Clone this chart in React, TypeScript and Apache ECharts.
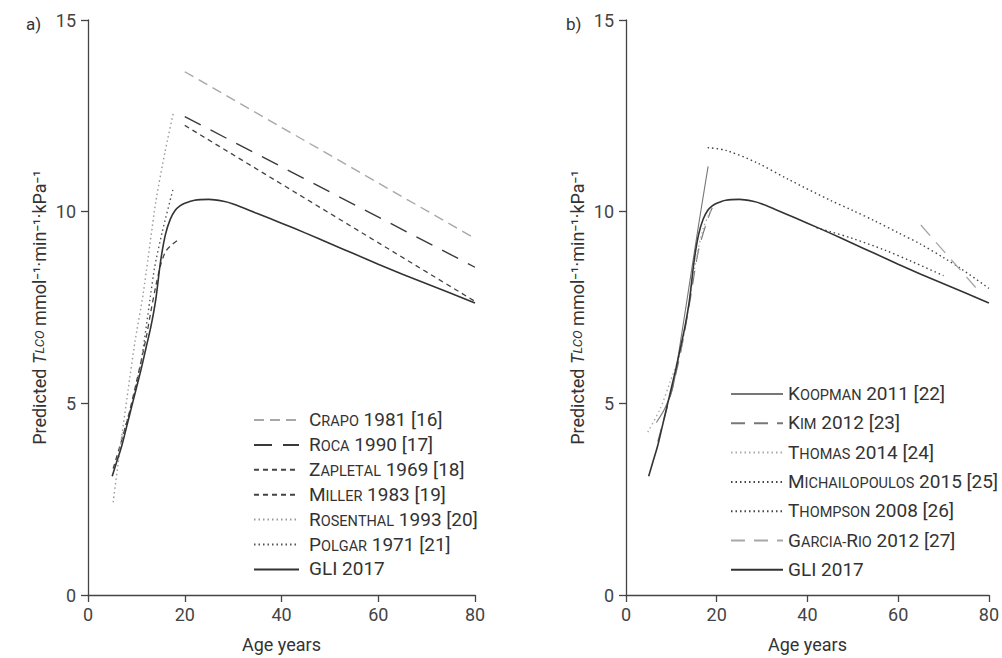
import React, { useEffect, useRef } from "react";
import * as echarts from "echarts";

const FONT = "Roboto";

// ---- shared GLI 2017 curve ----
const gliAges = [5, 6, 7, 8, 9, 10, 11, 12, 13, 14, 15, 16, 17, 18, 19, 20, 22, 25, 28, 30, 35, 40, 45, 50, 55, 60, 65, 70, 75, 80];
const gliValues = [3.1, 3.5, 3.9, 4.4, 4.9, 5.4, 5.9, 6.45, 7.0, 7.7, 8.7, 9.4, 9.8, 10.03, 10.15, 10.22, 10.3, 10.32, 10.27, 10.2, 9.95, 9.7, 9.44, 9.17, 8.9, 8.63, 8.37, 8.12, 7.87, 7.62];

// ---- panel a ----
const crapoAges = [20, 80];
const crapoValues = [13.65, 9.3];
const rocaAges = [20, 80];
const rocaValues = [12.48, 8.55];
const zapletalAges = [5.2, 8, 10, 12, 13, 14, 15, 16, 17, 18.5];
const zapletalValues = [3.3, 4.5, 5.55, 6.7, 7.4, 8.05, 8.6, 8.95, 9.1, 9.25];
const millerAges = [20, 80];
const millerValues = [12.25, 7.66];
const rosenthalAges = [5.2, 6.5, 8.3, 9.7, 11.4, 14, 15.9, 17.6];
const rosenthalValues = [2.42, 3.7, 5.36, 6.6, 7.85, 10.25, 11.55, 12.55];
const polgarAges = [7, 9, 11, 12.8, 13.8, 15.3, 17.6];
const polgarValues = [4.1, 4.95, 6.1, 7.7, 8.57, 9.45, 10.6];

// ---- panel b ----
const koopmanAges = [6.7, 8.5, 10.3, 12, 14.1, 16, 18.1];
const koopmanValues = [4.5, 4.85, 5.4, 6.6, 8.2, 9.65, 11.18];
const kimAges = [7, 10, 12, 14, 16, 18, 19];
const kimValues = [4.0, 5.3, 6.3, 7.6, 9.0, 9.8, 10.1];
const thomasAges = [4.8, 7.5, 9.7, 11.9, 13.5, 15, 17, 19];
const thomasValues = [4.25, 4.85, 5.55, 6.3, 7.3, 8.45, 9.55, 10.1];
const michailopoulosAges = [18, 22, 28.8, 36, 45, 50, 55, 60, 65, 70, 74, 80];
const michailopoulosValues = [11.67, 11.6, 11.28, 10.83, 10.3, 10.03, 9.75, 9.45, 9.15, 8.8, 8.5, 8.0];
const thompsonAges = [42, 45, 50, 57, 63, 70];
const thompsonValues = [9.58, 9.48, 9.3, 9.0, 8.7, 8.33];
const garciaRioAges = [65, 78];
const garciaRioValues = [9.65, 7.9];

const xTicks = { min: 0, max: 80, interval: 20 };
const yTicks = { min: 0, max: 15, interval: 5 };

const legendA = ["Crapo 1981 [16]", "Roca 1990 [17]", "Zapletal 1969 [18]", "Miller 1983 [19]", "Rosenthal 1993 [20]", "Polgar 1971 [21]", "GLI 2017"];
const legendB = ["Koopman 2011 [22]", "Kim 2012 [23]", "Thomas 2014 [24]", "Michailopoulos 2015 [25]", "Thompson 2008 [26]", "Garcia-Rio 2012 [27]", "GLI 2017"];

function pairs(a: number[], v: number[]) {
  return a.map((x, i) => [x, v[i]]);
}

function smallCaps(name: string) {
  if (name.startsWith("GLI")) return `{b|${name}}`;
  const idx = name.indexOf(" ");
  const word = name.slice(0, idx);
  const rest = name.slice(idx);
  let out = "";
  for (const ch of word) {
    if (ch >= "A" && ch <= "Z") out += `{b|${ch}}`;
    else out += `{s|${ch.toUpperCase()}}`;
  }
  return out + `{b|${rest}}`;
}

function line(name: string, ages: number[], vals: number[], idx: number, color: string, type: any, width: number, smooth: number | boolean = false) {
  return {
    type: "line",
    name,
    xAxisIndex: idx,
    yAxisIndex: idx,
    data: pairs(ages, vals),
    showSymbol: false,
    symbol: "none",
    smooth,
    lineStyle: { color, type, width },
    itemStyle: { color },
    z: name === "GLI 2017" ? 5 : 3,
  };
}

function xAxis(idx: number) {
  return {
    type: "value",
    gridIndex: idx,
    ...xTicks,
    name: "Age years",
    nameLocation: "middle",
    nameGap: 40,
    nameTextStyle: { fontSize: 18, color: "#333", fontFamily: FONT },
    axisLine: { show: true, lineStyle: { color: "#444", width: 1.3 } },
    axisTick: { show: true, length: 7, lineStyle: { color: "#444", width: 1.3 } },
    axisLabel: { fontSize: 18, color: "#444", margin: 10, fontFamily: FONT },
    splitLine: { show: false },
  };
}

function yAxis(idx: number) {
  return {
    type: "value",
    gridIndex: idx,
    ...yTicks,
    name: "Predicted {it|T}{its|LCO} mmol⁻¹·min⁻¹·kPa⁻¹",
    nameLocation: "middle",
    nameGap: 40,
    nameTextStyle: {
      fontSize: 18,
      color: "#333",
      fontFamily: FONT,
      rich: {
        it: { fontSize: 18, fontStyle: "italic", color: "#333", fontFamily: FONT },
        its: { fontSize: 13, fontStyle: "italic", color: "#333", fontFamily: FONT },
      },
    },
    axisLine: { show: true, lineStyle: { color: "#444", width: 1.3 } },
    axisTick: { show: true, length: 7, lineStyle: { color: "#444", width: 1.3 } },
    axisLabel: { fontSize: 18, color: "#444", margin: 12, fontFamily: FONT },
    splitLine: { show: false },
  };
}

function legend(data: string[], left: number, top: number, gap: number, width: number, pad: number) {
  return {
    orient: "vertical",
    left,
    top,
    data,
    itemWidth: width,
    itemHeight: 14,
    itemGap: gap,
    itemStyle: { opacity: 0, borderWidth: 0 },
    formatter: smallCaps,
    textStyle: {
      color: "#333",
      fontFamily: FONT,
      fontSize: 19,
      lineHeight: 18,
      padding: [0, 0, 0, pad],
      rich: {
        b: { fontSize: 19, lineHeight: 18, verticalAlign: "bottom", color: "#333", fontFamily: FONT },
        s: { fontSize: 14.5, lineHeight: 18, verticalAlign: "bottom", color: "#333", fontFamily: FONT },
      },
    },
    selectedMode: false,
  };
}

const CRAPO = [10, 6];
const ROCA = [18, 11];
const SHORT = [5, 4];
const DOT = [1.5, 3];
const KIM = [14, 9];

const option = {
  animation: false,
  backgroundColor: "#fff",
  title: [
    { text: "a)", left: 21, top: 10, textStyle: { fontSize: 17, fontWeight: "normal", color: "#333", fontFamily: FONT } },
    { text: "b)", left: 561, top: 10, textStyle: { fontSize: 17, fontWeight: "normal", color: "#333", fontFamily: FONT } },
  ],
  grid: [
    { left: 88, top: 20, width: 387, height: 576 },
    { left: 626, top: 20, width: 364, height: 576 },
  ],
  xAxis: [xAxis(0), xAxis(1)],
  yAxis: [yAxis(0), yAxis(1)],
  legend: [legend(legendA, 248, 405, 5.9, 45, 5), legend(legendB, 725, 379, 10.3, 52, 0)],
  series: [
    line("Crapo 1981 [16]", crapoAges, crapoValues, 0, "#a8a8a8", CRAPO, 1.4),
    line("Roca 1990 [17]", rocaAges, rocaValues, 0, "#3a3a3a", ROCA, 1.4),
    line("Zapletal 1969 [18]", zapletalAges, zapletalValues, 0, "#444", SHORT, 1.3, 0.3),
    line("Miller 1983 [19]", millerAges, millerValues, 0, "#444", SHORT, 1.3),
    line("Rosenthal 1993 [20]", rosenthalAges, rosenthalValues, 0, "#9a9a9a", DOT, 1.4, 0.2),
    line("Polgar 1971 [21]", polgarAges, polgarValues, 0, "#555", DOT, 1.4, 0.2),
    line("GLI 2017", gliAges, gliValues, 0, "#333", "solid", 1.6, 0.3),
    line("Koopman 2011 [22]", koopmanAges, koopmanValues, 1, "#777", "solid", 1.1, 0.3),
    line("Kim 2012 [23]", kimAges, kimValues, 1, "#777", KIM, 1.2, 0.3),
    line("Thomas 2014 [24]", thomasAges, thomasValues, 1, "#aaa", DOT, 1.4, 0.3),
    line("Michailopoulos 2015 [25]", michailopoulosAges, michailopoulosValues, 1, "#444", DOT, 1.4, 0.3),
    line("Thompson 2008 [26]", thompsonAges, thompsonValues, 1, "#444", DOT, 1.4, 0.3),
    line("Garcia-Rio 2012 [27]", garciaRioAges, garciaRioValues, 1, "#a8a8a8", KIM, 1.4),
    line("GLI 2017", gliAges, gliValues, 1, "#333", "solid", 1.6, 0.3),
  ],
};

export default function App() {
  const ref = useRef<HTMLDivElement>(null);
  useEffect(() => {
    const chart = echarts.init(ref.current!, null, { renderer: "svg" });
    chart.setOption(option as any);
    return () => chart.dispose();
  }, []);
  return <div ref={ref} style={{ position: "absolute", left: 0, top: 0, width: 1002, height: 658 }} />;
}
